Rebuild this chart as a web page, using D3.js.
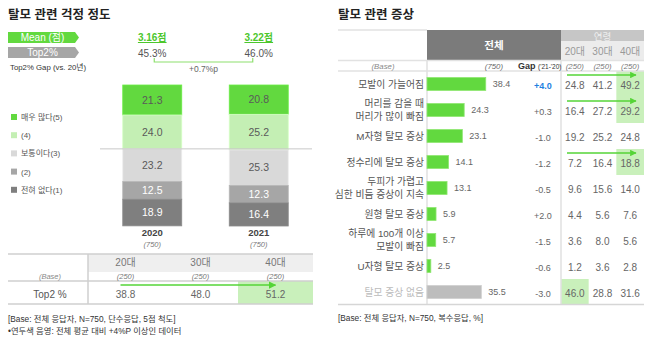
<!DOCTYPE html>
<html><head><meta charset="utf-8">
<script src="https://cdn.jsdelivr.net/npm/d3@7"></script>
<style>
html,body{margin:0;padding:0;background:#fff;}
svg{display:block;font-family:"Liberation Sans","Noto Sans CJK KR",Arial,sans-serif;}
</style></head><body>
<svg id="c" width="650" height="340"></svg>
<script>
// ---------- data: left panel ----------
const years = ["2020", "2021"];
const yearBase = ["(750)", "(750)"];
const levels = ["매우 많다(5)", "(4)", "보통이다(3)", "(2)", "전혀 없다(1)"];
const worry2020 = [21.3, 24.0, 23.2, 12.5, 18.9];
const worry2021 = [20.8, 25.2, 25.3, 12.3, 16.4];
const meanScores = [3.16, 3.22];
const top2 = [45.3, 46.0];
const ageGroups = ["20대", "30대", "40대"];
const ageBase = ["(250)", "(250)", "(250)"];
const ageTop2 = [38.8, 48.0, 51.2];

// ---------- data: right panel ----------
const symptoms = ["모발이 가늘어짐", "머리를 감을 때\n머리가 많이 빠짐", "M자형 탈모 증상", "정수리에 탈모 증상",
  "두피가 가렵고\n심한 비듬 증상이 지속", "원형 탈모 증상", "하루에 100개 이상\n모발이 빠짐", "U자형 탈모 증상", "탈모 증상 없음"];
const totalPct = [38.4, 24.3, 23.1, 14.1, 13.1, 5.9, 5.7, 2.5, 35.5];
const gapVals = [4.0, 0.3, -1.0, -1.2, -0.5, 2.0, -1.5, -0.6, -3.0];
const age20 = [24.8, 16.4, 19.2, 7.2, 9.6, 4.4, 3.6, 1.2, 46.0];
const age30 = [41.2, 27.2, 25.2, 16.4, 15.6, 5.6, 8.0, 3.6, 28.8];
const age40 = [49.2, 29.2, 24.8, 18.8, 14.0, 7.6, 5.6, 2.8, 31.6];

const GREEN = "#62d93f", LGREEN = "#c4efb4", HILITE = "#c9f0bb";
const segColors = [GREEN, LGREEN, "#d9d9d9", "#a6a6a6", "#7f7f7f"];
const segText = ["#5a5a5a", "#5a5a5a", "#5a5a5a", "#ffffff", "#ffffff"];

const svg = d3.select("#c");
svg.append("rect").attr("width", 650).attr("height", 340).attr("fill", "#fff");

// ================= LEFT PANEL =================
const L = svg.append("g");
L.append("text").attr("x", 8).attr("y", 19).attr("font-size", 12.5).attr("font-weight", "bold")
  .attr("fill", "#222").text("탈모 관련 걱정 정도");

// badges
function badge(y, fill, label) {
  const x0 = 8, x1 = 75, h = 11;
  L.append("path").attr("d", `M${x0},${y}H${x1}L${x1 + 4},${y + h / 2}L${x1},${y + h}H${x0}Z`).attr("fill", fill);
  L.append("text").attr("x", (x0 + x1) / 2 + 1).attr("y", y + h / 2 + 3.6).attr("text-anchor", "middle")
    .attr("font-size", 10).attr("fill", "#fff").text(label);
}
badge(32, GREEN, "Mean (점)");
badge(47, "#a6a6a6", "Top2%");
L.append("text").attr("x", 10).attr("y", 70).attr("font-size", 7.8).attr("fill", "#333").text("Top2% Gap (vs. 20년)");

const xYear = d3.scalePoint().domain(years).range([99, 312]).padding(0.5);
const barW = 59;
const cx = d => xYear(d);
const yPct = d3.scaleLinear().domain([0, 100]).range([85, 226]);

years.forEach((yr, i) => {
  L.append("text").attr("x", cx(yr)).attr("y", 41).attr("text-anchor", "middle").attr("font-size", 10)
    .attr("font-weight", "bold").attr("fill", "#4cc72c").attr("text-decoration", "underline")
    .text(meanScores[i].toFixed(2) + "점");
  L.append("text").attr("x", cx(yr)).attr("y", 57).attr("text-anchor", "middle").attr("font-size", 10)
    .attr("fill", "#555").text(top2[i].toFixed(1) + "%");
});
// gap bracket
const bx0 = cx(years[0]) + 2, bx1 = cx(years[1]) - 6;
L.append("path").attr("d", `M${bx0},58V62H${bx1}V58`).attr("fill", "none").attr("stroke", "#8ee06f").attr("stroke-width", 1.2);
L.append("text").attr("x", (bx0 + bx1) / 2).attr("y", 72).attr("text-anchor", "middle").attr("font-size", 8.5)
  .attr("fill", "#666").text("+" + (top2[1] - top2[0]).toFixed(1) + "%p");

// legend
levels.forEach((lv, i) => {
  const y = 117 + i * 18.2;
  L.append("rect").attr("x", 11).attr("y", y - 3).attr("width", 6).attr("height", 6).attr("fill", segColors[i]);
  L.append("text").attr("x", 21).attr("y", y + 3).attr("font-size", 8).attr("fill", "#555").text(lv);
});

// stacked bars
[worry2020, worry2021].forEach((vals, bi) => {
  const x = cx(years[bi]) - barW / 2;
  let cum = 0;
  vals.forEach((v, si) => {
    const y0 = yPct(cum), y1 = yPct(cum + v);
    L.append("rect").attr("x", x).attr("y", y0).attr("width", barW).attr("height", y1 - y0)
      .attr("fill", segColors[si]).attr("stroke", d3.color(segColors[si]).brighter(0.25)).attr("stroke-width", 0.8);
    L.append("text").attr("x", cx(years[bi])).attr("y", (y0 + y1) / 2 + 3.8).attr("text-anchor", "middle")
      .attr("font-size", 10.5).attr("fill", segText[si]).text(v.toFixed(1));
    cum += v;
  });
  L.append("text").attr("x", cx(years[bi])).attr("y", 236).attr("text-anchor", "middle").attr("font-size", 9.5)
    .attr("font-weight", "bold").attr("fill", "#444").text(years[bi]);
  L.append("text").attr("x", cx(years[bi])).attr("y", 247).attr("text-anchor", "middle").attr("font-size", 7.5)
    .attr("font-style", "italic").attr("fill", "#777").text(yearBase[bi]);
});
// top2 divider
L.append("line").attr("x1", 100).attr("x2", 312).attr("y1", yPct(top2[0])).attr("y2", yPct(top2[0]))
  .attr("stroke", "#c8c8c8").attr("stroke-width", 1);

// age table
const xAge = d3.scaleBand().domain(ageGroups).range([88, 313]);
const acx = d => xAge(d) + xAge.bandwidth() / 2;
L.append("rect").attr("x", 88).attr("y", 254).attr("width", 225).attr("height", 18).attr("fill", "#efefef");
ageGroups.forEach((g, i) => {
  if (ageTop2[i] - top2[1] >= 4) {
    L.append("rect").attr("x", xAge(g)).attr("y", 281).attr("width", xAge.bandwidth()).attr("height", 23).attr("fill", HILITE);
  }
});
L.append("line").attr("x1", 8).attr("x2", 313).attr("y1", 254).attr("y2", 254).attr("stroke", "#cfcfcf").attr("stroke-width", 1.5);
L.append("line").attr("x1", 8).attr("x2", 313).attr("y1", 281).attr("y2", 281).attr("stroke", "#cfcfcf").attr("stroke-width", 1.5);
L.append("line").attr("x1", 8).attr("x2", 313).attr("y1", 304).attr("y2", 304).attr("stroke", "#cfcfcf").attr("stroke-width", 1.5);
L.append("line").attr("x1", 88).attr("x2", 88).attr("y1", 254).attr("y2", 304).attr("stroke", "#cfcfcf").attr("stroke-width", 1.5);
L.append("text").attr("x", 50).attr("y", 279).attr("text-anchor", "middle").attr("font-size", 7.5)
  .attr("font-style", "italic").attr("fill", "#888").text("(Base)");
L.append("text").attr("x", 50).attr("y", 298).attr("text-anchor", "middle").attr("font-size", 10)
  .attr("fill", "#555").text("Top2 %");
ageGroups.forEach((g, i) => {
  L.append("text").attr("x", acx(g)).attr("y", 266).attr("text-anchor", "middle").attr("font-size", 10).attr("fill", "#777").text(g);
  L.append("text").attr("x", acx(g)).attr("y", 279).attr("text-anchor", "middle").attr("font-size", 7.5)
    .attr("font-style", "italic").attr("fill", "#777").text(ageBase[i]);
  L.append("text").attr("x", acx(g)).attr("y", 298).attr("text-anchor", "middle").attr("font-size", 10).attr("fill", "#666")
    .text(ageTop2[i].toFixed(1));
});
// arrow markers
const defs = svg.append("defs");
defs.append("marker").attr("id", "ah").attr("viewBox", "0 0 10 10").attr("refX", 9).attr("refY", 5)
  .attr("markerWidth", 5).attr("markerHeight", 5).attr("orient", "auto")
  .append("path").attr("d", "M0,0L10,5L0,10Z").attr("fill", "#55d437");
L.append("line").attr("x1", acx(ageGroups[0]) - 5).attr("x2", acx(ageGroups[2])).attr("y1", 285).attr("y2", 285)
  .attr("stroke", "#55d437").attr("stroke-width", 1.5).attr("marker-end", "url(#ah)");

L.append("text").attr("x", 8).attr("y", 322).attr("font-size", 8.3).attr("fill", "#333").text("[Base: 전체 응답자, N=750, 단수응답, 5점 척도]");
L.append("text").attr("x", 8).attr("y", 334).attr("font-size", 8.3).attr("fill", "#333").text("•연두색 음영: 전체 평균 대비 +4%P 이상인 데이터");

// ================= RIGHT PANEL =================
const R = svg.append("g");
R.append("text").attr("x", 338).attr("y", 19).attr("font-size", 12.5).attr("font-weight", "bold")
  .attr("fill", "#222").text("탈모 관련 증상");

const yRow = d3.scaleBand().domain(symptoms).range([71, 305]).paddingInner(0.5).paddingOuter(0.25);
const yStep = d3.scaleBand().domain(symptoms).range([71, 305]);
const rcy = d => yStep(d) + yStep.bandwidth() / 2;
const xBar = d3.scaleLinear().domain([0, 100]).range([427, 580]);
const xCol = d3.scaleBand().domain(ageGroups).range([561, 644]);
const ccx = d => xCol(d) + xCol.bandwidth() / 2;
const ageCols = [age20, age30, age40];

// header boxes
R.append("rect").attr("x", 427).attr("y", 30).attr("width", 134).attr("height", 30).attr("fill", "#7b7b7b");
R.append("text").attr("x", 494).attr("y", 49).attr("text-anchor", "middle").attr("font-size", 10.5)
  .attr("font-weight", "bold").attr("fill", "#fff").text("전체");
R.append("rect").attr("x", 561).attr("y", 30).attr("width", 83).attr("height", 11).attr("fill", "#c6c6c6");
R.append("text").attr("x", 602.5).attr("y", 39.5).attr("text-anchor", "middle").attr("font-size", 9.5)
  .attr("fill", "#eeeeee").text("연령");
R.append("rect").attr("x", 561).attr("y", 41).attr("width", 83).attr("height", 19).attr("fill", "#ececec");
ageGroups.forEach(g => {
  R.append("text").attr("x", ccx(g)).attr("y", 55).attr("text-anchor", "middle").attr("font-size", 10).attr("fill", "#999").text(g);
});

// highlights
symptoms.forEach((s, i) => {
  ageCols.forEach((col, j) => {
    if (col[i] - totalPct[i] >= 4) {
      R.append("rect").attr("x", xCol(ageGroups[j])).attr("y", yStep(s)).attr("width", xCol.bandwidth())
        .attr("height", yStep.bandwidth()).attr("fill", HILITE);
    }
  });
});

// grid lines
R.append("line").attr("x1", 338).attr("x2", 427).attr("y1", 30).attr("y2", 30).attr("stroke", "#e2e2e2").attr("stroke-width", 1.5);
R.append("line").attr("x1", 338).attr("x2", 644).attr("y1", 60.5).attr("y2", 60.5).attr("stroke", "#e2e2e2").attr("stroke-width", 1.5);
R.append("line").attr("x1", 338).attr("x2", 644).attr("y1", 71).attr("y2", 71).attr("stroke", "#e2e2e2").attr("stroke-width", 1.5);
R.append("line").attr("x1", 427).attr("x2", 427).attr("y1", 60).attr("y2", 304).attr("stroke", "#e0e0e0").attr("stroke-width", 1.5);
R.append("line").attr("x1", 561).attr("x2", 561).attr("y1", 60).attr("y2", 304).attr("stroke", "#e0e0e0").attr("stroke-width", 1.5);
R.append("line").attr("x1", 338).attr("x2", 644).attr("y1", 304.5).attr("y2", 304.5).attr("stroke", "#d6d6d6").attr("stroke-width", 1.5);

// base row
R.append("text").attr("x", 383).attr("y", 68.5).attr("text-anchor", "middle").attr("font-size", 7.8)
  .attr("font-style", "italic").attr("fill", "#888").text("(Base)");
R.append("text").attr("x", 503).attr("y", 68.5).attr("text-anchor", "end").attr("font-size", 7.8)
  .attr("font-style", "italic").attr("fill", "#666").text("(750)");
const gt = R.append("text").attr("x", 518).attr("y", 68.5).attr("font-size", 9).attr("fill", "#333");
gt.append("tspan").attr("font-weight", "bold").text("Gap ");
gt.append("tspan").attr("font-size", 6.5).text("('21-'20)");
ageGroups.forEach((g, j) => {
  R.append("text").attr("x", ccx(g)).attr("y", 68.5).attr("text-anchor", "middle").attr("font-size", 7.8)
    .attr("font-style", "italic").attr("fill", "#777").text(ageBase[j]);
});

// rows
symptoms.forEach((s, i) => {
  const cy = rcy(s);
  const last = i === symptoms.length - 1;
  const lines = s.split("\n");
  lines.forEach((ln, k) => {
    R.append("text").attr("x", 424).attr("y", cy + 3.5 + (k - (lines.length - 1) / 2) * 12.5)
      .attr("text-anchor", "end").attr("font-size", 9.8).attr("fill", last ? "#bbbbbb" : "#555").text(ln);
  });
  R.append("rect").attr("x", xBar(0)).attr("y", yRow(s)).attr("width", xBar(totalPct[i]) - xBar(0))
    .attr("height", yRow.bandwidth()).attr("fill", last ? "#bdbdbd" : GREEN)
    .attr("stroke", last ? "#cfcfcf" : "#8fe672").attr("stroke-width", 0.8);
  R.append("text").attr("x", xBar(totalPct[i]) + 7).attr("y", cy + 3.3).attr("font-size", 9)
    .attr("fill", "#666").text(totalPct[i].toFixed(1));
  const g = gapVals[i];
  const strong = g >= 4;
  R.append("text").attr("x", 543).attr("y", cy + 5).attr("text-anchor", "middle").attr("font-size", 9)
    .attr("font-weight", strong ? "bold" : "normal").attr("fill", strong ? "#1f7fe0" : "#666")
    .text((g > 0 ? "+" : "") + g.toFixed(1));
  ageCols.forEach((col, j) => {
    R.append("text").attr("x", ccx(ageGroups[j])).attr("y", cy + 4.5).attr("text-anchor", "middle")
      .attr("font-size", 10).attr("fill", "#666").text(col[i].toFixed(1));
  });
  if (age40[i] - totalPct[i] >= 4) {
    R.append("line").attr("x1", 567).attr("x2", 636).attr("y1", yStep(s) + 4).attr("y2", yStep(s) + 4)
      .attr("stroke", "#55d437").attr("stroke-width", 1.3).attr("marker-end", "url(#ah)");
  }
});

R.append("text").attr("x", 338).attr("y", 321).attr("font-size", 8.3).attr("fill", "#333").text("[Base: 전체 응답자, N=750, 복수응답, %]");
</script>
</body></html>
